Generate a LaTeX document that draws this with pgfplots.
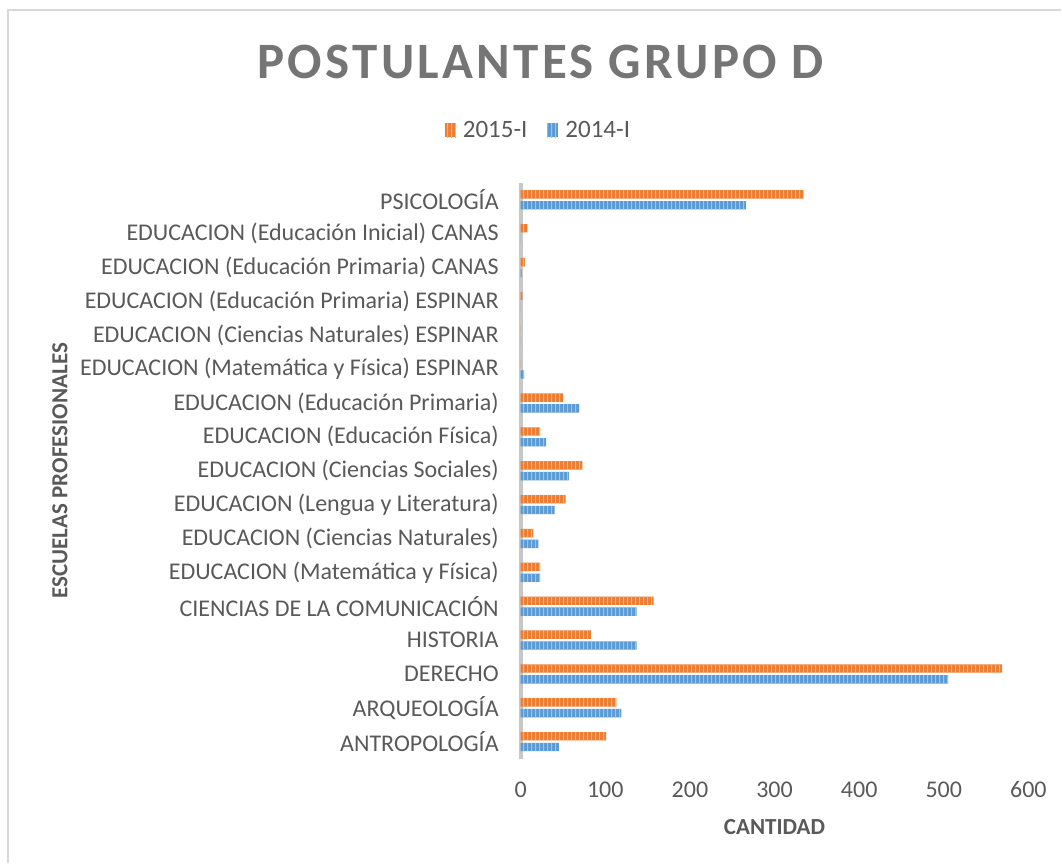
\documentclass[border=0pt]{standalone}
\usepackage{pgfplots}
\pgfplotsset{compat=1.18}
\usepackage{pgfplotstable}
\usepackage{fontspec}
\setmainfont{Carlito}
\newfontfamily\titlefont[LetterSpace=6.5]{Carlito}
\usetikzlibrary{patterns.meta}

\definecolor{or15}{HTML}{ED7D31}
\definecolor{bl14}{HTML}{5B9BD5}
\definecolor{txt}{HTML}{595959}
\definecolor{ttl}{HTML}{757575}

\tikzdeclarepattern{
  name=vstripes,
  type=uncolored,
  bottom left={(0pt,0pt)}, top right={(2pt,1pt)}, tile size={(2pt,1pt)},
  code={\fill (0pt,-0.1pt) rectangle (0.6pt,1.1pt);}
}

\pgfplotstableread{
idx v15 v14
0 101 45
1 113 119
2 569 505
3 83 137
4 157 137
5 23 23
6 15 21
7 53 40
8 73 57
9 23 30
10 50 69
11 0 4
12 0 0
13 2 0
14 5 1
15 8 0
16 334 266
}\data

\begin{document}
\begin{tikzpicture}
\path (-260.5pt,-52.5pt) rectangle (270.5pt,379.5pt);
\draw[black!15, line width=0.6pt] (-256.5pt,-52pt) -- (-256.5pt,374.5pt) -- (270.5pt,374.5pt);
\node[font=\titlefont\bfseries\fontsize{25.5}{30}\selectfont, text=ttl] at (10pt,348.5pt) {POSTULANTES GRUPO D};
\begin{axis}[
  at={(0,0)}, anchor=south west,
  scale only axis, width=254pt, height=288pt,
  xmin=0, xmax=600, ymin=-0.5, ymax=16.5,
  xbar=1.2pt, bar width=4.2pt,
  separate axis lines,
  axis x line*=bottom, axis y line*=left,
  x axis line style={draw=none, -},
  y axis line style={draw=black!22, line width=2pt, -},
  major tick length=0pt,
  /pgf/number format/assume math mode=true,
  xtick={0,100,...,600},
  ytick={0,...,16},
  yticklabels={ANTROPOLOGÍA, ARQUEOLOGÍA, DERECHO, HISTORIA, CIENCIAS DE LA COMUNICACIÓN,
    EDUCACION (Matemática y Física), EDUCACION (Ciencias Naturales),
    EDUCACION (Lengua y Literatura), EDUCACION (Ciencias Sociales),
    EDUCACION (Educación Física), EDUCACION (Educación Primaria),
    EDUCACION (Matemática y Física) ESPINAR, EDUCACION (Ciencias Naturales) ESPINAR,
    EDUCACION (Educación Primaria) ESPINAR, EDUCACION (Educación Primaria) CANAS,
    EDUCACION (Educación Inicial) CANAS, PSICOLOGÍA},
  ticklabel style={font=\fontsize{12}{14}\selectfont, text=txt},
  xticklabel style={yshift=-8pt},
  yticklabel style={xshift=-7.5pt},
  xlabel={CANTIDAD},
  ylabel={ESCUELAS PROFESIONALES},
  every axis x label/.style={at={(axis description cs:0.5,-0.1198)}, anchor=center,
    font=\bfseries\fontsize{11.5}{14}\selectfont, text=txt},
  every axis y label/.style={at={(axis description cs:-0.9075,0.5)}, anchor=center, rotate=90,
    font=\bfseries\fontsize{11.5}{14}\selectfont, text=txt},
  legend style={at={(axis description cs:0.037,1.09)}, anchor=center, draw=none,
    font=\fontsize{12.5}{15}\selectfont, text=txt, legend columns=2,
    /tikz/every odd column/.append style={column sep=1.5pt},
    /tikz/every even column/.append style={column sep=8pt}},
  reverse legend,
  legend image code/.code={\fill[#1] (0pt,-3.2pt) rectangle (5.5pt,3.8pt);},
]
\addplot[fill=bl14, draw=none, postaction={pattern={vstripes}, pattern color=bl14!60!white}]
  table[x=v14, y=idx] {\data};
\addlegendentry{2014-I}
\addplot[fill=or15, draw=none, postaction={pattern={vstripes}, pattern color=or15!60!white}]
  table[x=v15, y=idx] {\data};
\addlegendentry{2015-I}
\end{axis}
\end{tikzpicture}
\end{document}
